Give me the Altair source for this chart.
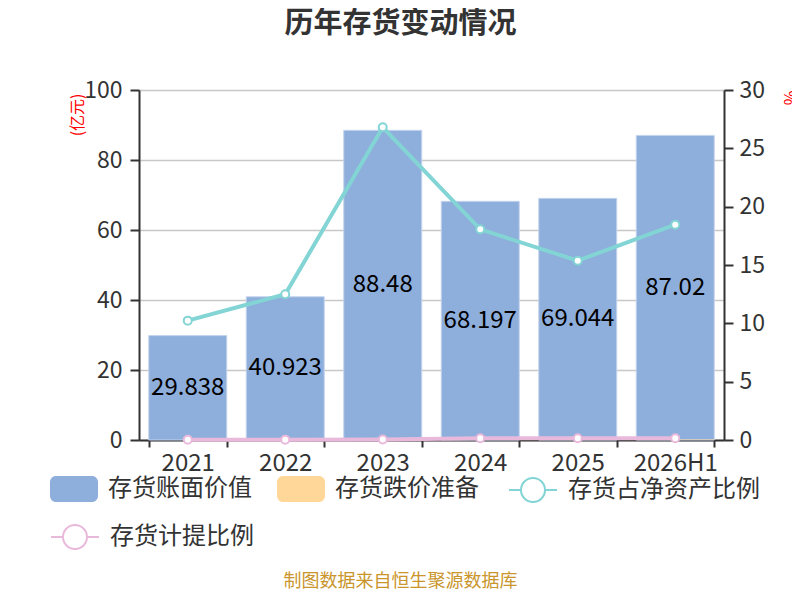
import altair as alt
import pandas as pd

years = ["2021", "2022", "2023", "2024", "2025", "2026H1"]
book_value = [29.838, 40.923, 88.48, 68.197, 69.044, 87.02]          # 存货账面价值 (亿元)
impairment = [0.01, 0.01, 0.035, 0.10, 0.10, 0.13]                   # 存货跌价准备 (亿元)
net_asset_ratio = [10.23, 12.49, 26.8, 18.06, 15.37, 18.46]          # 存货占净资产比例 (%)
provision_ratio = [0.03, 0.03, 0.04, 0.15, 0.15, 0.15]               # 存货计提比例 (%)

bar_series = ["存货账面价值", "存货跌价准备"]
bar_colors = ["#8eaedb", "#ffd899"]
teal_name, teal_color = "存货占净资产比例", "#83d4d4"
pink_name, pink_color = "存货计提比例", "#e9b9dc"

FONT = "Noto Sans CJK SC"

bars_df = pd.DataFrame({"year": years, "value": book_value, "series": bar_series[0]})
imp_df = pd.DataFrame({"year": years, "value": impairment, "series": bar_series[1]})
teal_df = pd.DataFrame({"year": years, "value": net_asset_ratio, "series": teal_name})
pink_df = pd.DataFrame({"year": years, "value": provision_ratio, "series": pink_name})

rect_path = ("M-0.75,-0.54 L0.75,-0.54 A0.25,0.25 0 0 1 1,-0.29 L1,0.29 "
             "A0.25,0.25 0 0 1 0.75,0.54 L-0.75,0.54 A0.25,0.25 0 0 1 -1,0.29 "
             "L-1,-0.29 A0.25,0.25 0 0 1 -0.75,-0.54 Z")
line_path = ("M-1,0 L-0.5,0 M0.5,0 L1,0 M0.5,0 A0.5,0.5 0 1 1 -0.5,0 "
             "A0.5,0.5 0 1 1 0.5,0 Z")

common_legend = dict(
    title=None,
    orient="none",
    direction="horizontal",
    labelFont=FONT,
    labelFontSize=24,
    labelColor="#333333",
    labelOffset=10,
    labelLimit=400,
    symbolSize=2304,
)

bar_legend = alt.Legend(legendX=-89, legendY=375, symbolType=rect_path,
                        symbolStrokeWidth=0, columnPadding=25, **common_legend)
teal_legend = alt.Legend(legendX=369, legendY=375, symbolType=line_path,
                         symbolFillColor="#ffffff", symbolStrokeWidth=2, **common_legend)
pink_legend = alt.Legend(legendX=-89, legendY=422, symbolType=line_path,
                         symbolFillColor="#ffffff", symbolStrokeWidth=2, **common_legend)

x_axis = alt.Axis(
    title="制图数据来自恒生聚源数据库",
    titleFont=FONT,
    titleFontSize=18,
    titleFontWeight="normal",
    titleColor="#c9952c",
    titleX=261,
    titleY=141,
    titleAlign="center",
    titleBaseline="middle",
    labelAngle=0,
    labelFont=FONT,
    labelFontSize=24,
    labelColor="#333333",
    labelPadding=4,
    tickBand="extent",
    tickSize=7,
    tickWidth=2,
    tickColor="#333333",
    domainColor="#333333",
    domainWidth=2,
)
x_enc = alt.X("year:N", sort=years,
              scale=alt.Scale(paddingInner=0.2, paddingOuter=0.1), axis=x_axis)
x_plain = alt.X("year:N", sort=years)

left_axis = alt.Axis(
    title="(亿元)",
    titleFont=FONT,
    titleFontSize=16,
    titleFontWeight="normal",
    titleColor="#ff0000",
    titleAngle=270,
    titleX=-62,
    titleY=3,
    titleAlign="right",
    titleBaseline="middle",
    values=[0, 20, 40, 60, 80, 100],
    labelFont=FONT,
    labelFontSize=23,
    labelColor="#333333",
    labelPadding=8,
    tickSize=9,
    tickWidth=2,
    tickColor="#333333",
    domainColor="#333333",
    domainWidth=2,
    grid=True,
    gridColor="#c8c8c8",
    gridWidth=1.5,
)

right_axis = alt.Axis(
    title="%",
    titleFont=FONT,
    titleFontSize=16,
    titleFontWeight="normal",
    titleColor="#ff0000",
    titleAngle=90,
    titleX=64,
    titleY=0,
    titleAlign="left",
    titleBaseline="middle",
    orient="right",
    values=[0, 5, 10, 15, 20, 25, 30],
    labelFont=FONT,
    labelFontSize=23,
    labelColor="#333333",
    labelPadding=6,
    tickSize=9,
    tickWidth=2,
    tickColor="#333333",
    domainColor="#333333",
    domainWidth=2,
    grid=False,
)

y_left = alt.Scale(domain=[0, 100], nice=False)
y_right = alt.Scale(domain=[0, 30], nice=False)
bar_color = alt.Color("series:N", scale=alt.Scale(domain=bar_series, range=bar_colors),
                      legend=bar_legend)

bars = alt.Chart(bars_df).mark_bar(stroke="#c5d4ee", strokeWidth=1).encode(
    x=x_enc,
    y=alt.Y("value:Q", scale=y_left, axis=left_axis),
    color=bar_color,
)

imp_bars = alt.Chart(imp_df).mark_bar().encode(
    x=x_plain,
    y=alt.Y("value:Q", scale=y_left, axis=left_axis),
    color=bar_color,
)

labels = alt.Chart(bars_df).transform_calculate(
    mid="datum.value / 2"
).mark_text(font=FONT, fontSize=24, color="#000000", baseline="middle").encode(
    x=x_plain,
    y=alt.Y("mid:Q", scale=y_left, axis=left_axis),
    text=alt.Text("value:Q", format="~r"),
)

left_layer = alt.layer(bars, imp_bars, labels)


def ratio_layer(df, name, color, legend):
    y = alt.Y("value:Q", scale=y_right, axis=right_axis)
    col = alt.Color("series:N", scale=alt.Scale(domain=[name], range=[color]), legend=legend)
    line = alt.Chart(df).mark_line(strokeWidth=4, color=color).encode(x=x_plain, y=y, color=col)
    pts = alt.Chart(df).mark_point(filled=False, fill="#ffffff", stroke=color, size=64,
                                   strokeWidth=2, opacity=1).encode(x=x_plain, y=y)
    return alt.layer(line, pts)


teal_layer = ratio_layer(teal_df, teal_name, teal_color, teal_legend)
pink_layer = ratio_layer(pink_df, pink_name, pink_color, pink_legend)

right_layer = alt.layer(teal_layer, pink_layer).resolve_scale(color="independent")

chart = alt.layer(left_layer, right_layer).resolve_scale(
    y="independent", color="independent"
).properties(
    width=585,
    height=350,
    autosize=alt.AutoSizeParams(type="none"),
    padding={"left": 131, "top": 82, "right": 68, "bottom": 152},
    title=alt.TitleParams(
        text="历年存货变动情况",
        font=FONT,
        fontSize=29,
        fontWeight="bold",
        color="#333333",
        anchor="middle",
        frame="group",
        dx=-31,
        offset=11,
        baseline="bottom",
    ),
).configure_view(stroke=None).configure(background="#ffffff")

chart.save("out.html", embed_options={"renderer": "svg", "actions": False})
